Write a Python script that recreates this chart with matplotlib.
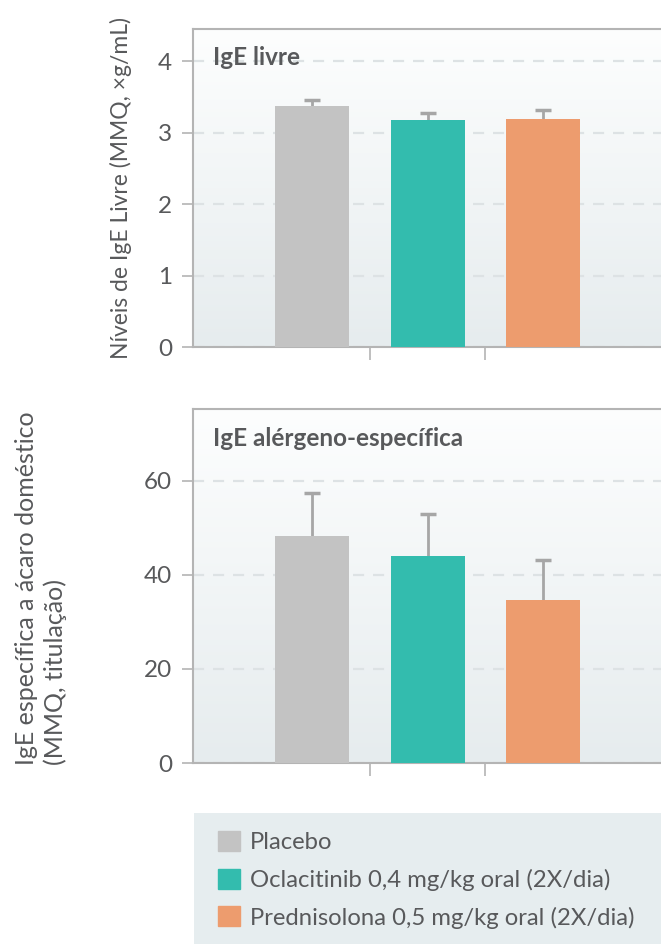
import numpy as np
import matplotlib
matplotlib.use('Agg')
import matplotlib.pyplot as plt
from matplotlib.colors import LinearSegmentedColormap

plt.rcParams['font.family'] = ['Lato', 'DejaVu Sans']

# dados
grupos = ['Placebo', 'Oclacitinib 0,4 mg/kg oral (2X/dia)', 'Prednisolona 0,5 mg/kg oral (2X/dia)']
cores = ['#c3c3c3', '#33bcae', '#ed9c6e']

ige_livre = [3.37, 3.17, 3.19]
ige_livre_erro = [0.09, 0.11, 0.12]

ige_especifica = [48.3, 44.0, 34.7]
ige_especifica_erro = [9.1, 9.0, 8.5]

txt = '#58595b'
spine_c = '#b4b4b4'

fig = plt.figure(figsize=(6.61, 9.44), dpi=100)
grad = LinearSegmentedColormap.from_list('g', ['#e6ecee', '#fdfefe'])


def painel(rect, vals, errs, ylim, yticks, titulo, ty):
    ax = fig.add_axes(rect)
    x = np.arange(len(vals))
    ax.set_xlim(-1.03, 3.02)
    ax.set_ylim(*ylim)
    ax.imshow(np.linspace(0, 1, 256)[:, None], cmap=grad, origin='lower', aspect='auto',
              extent=[-1.03, 3.02, ylim[0], ylim[1]], zorder=0)
    ax.bar(x, vals, width=0.64, color=cores, zorder=3)
    eb = ax.errorbar(x, vals, yerr=[[0] * len(errs), errs], fmt='none', ecolor='#a6a6a6',
                     elinewidth=2, capsize=6, capthick=2.5, zorder=2)
    eb[1][0].set_visible(False)  # sem cap inferior
    ax.set_yticks(yticks)
    ax.yaxis.grid(True, color='#dde2e4', linestyle=(0, (5, 4)), linewidth=1.6, zorder=1)
    ax.set_xticks([0.5, 1.5])
    ax.set_xticklabels([])
    ax.tick_params(axis='x', length=9, width=1.2, color=spine_c)
    ax.tick_params(axis='y', length=8, width=1.2, color=spine_c, labelsize=17.5,
                   labelcolor=txt, pad=7)
    for s in ['left', 'top', 'bottom']:
        ax.spines[s].set_color(spine_c)
        ax.spines[s].set_linewidth(1.5)
    ax.spines['right'].set_visible(False)
    ax.text(0.043, ty, titulo, transform=ax.transAxes, fontsize=17.5, fontweight='bold',
            color=txt, va='center', ha='left', zorder=5)
    return ax


ax1 = painel([193 / 661, 1 - 347 / 944, 468 / 661, 318 / 944], ige_livre, ige_livre_erro,
             (0, 4.45), [0, 1, 2, 3, 4], 'IgE livre', 0.909)
ax1.set_ylabel('Níveis de IgE Livre (MMQ, ×g/mL)', fontsize=16.5, color=txt, labelpad=19)

ax2 = painel([193 / 661, 1 - 763 / 944, 468 / 661, 354 / 944], ige_especifica, ige_especifica_erro,
             (0, 75.3), [0, 20, 40, 60], 'IgE alérgeno-específica', 0.918)
fig.text(41 / 661, 1 - 588 / 944, 'IgE específica a ácaro doméstico\n(MMQ, titulação)',
         rotation=90, fontsize=18, color=txt,
         ha='center', va='center', multialignment='left', linespacing=1.25)

# legenda
lax = fig.add_axes([194 / 661, 0, 467 / 661, 131 / 944])
lax.set_facecolor('#e6edef')
lax.set_xticks([])
lax.set_yticks([])
for s in lax.spines.values():
    s.set_visible(False)
handles = [plt.Rectangle((0, 0), 1, 1, color=c) for c in cores]
leg = lax.legend(handles, grupos, loc='center left', bbox_to_anchor=(0.031, 0.49), frameon=False,
                 fontsize=17.2, handlelength=0.9, handleheight=0.9, handletextpad=0.45,
                 labelspacing=0.65, borderaxespad=0)
for t in leg.get_texts():
    t.set_color(txt)

fig.savefig('out.png', dpi=100)
